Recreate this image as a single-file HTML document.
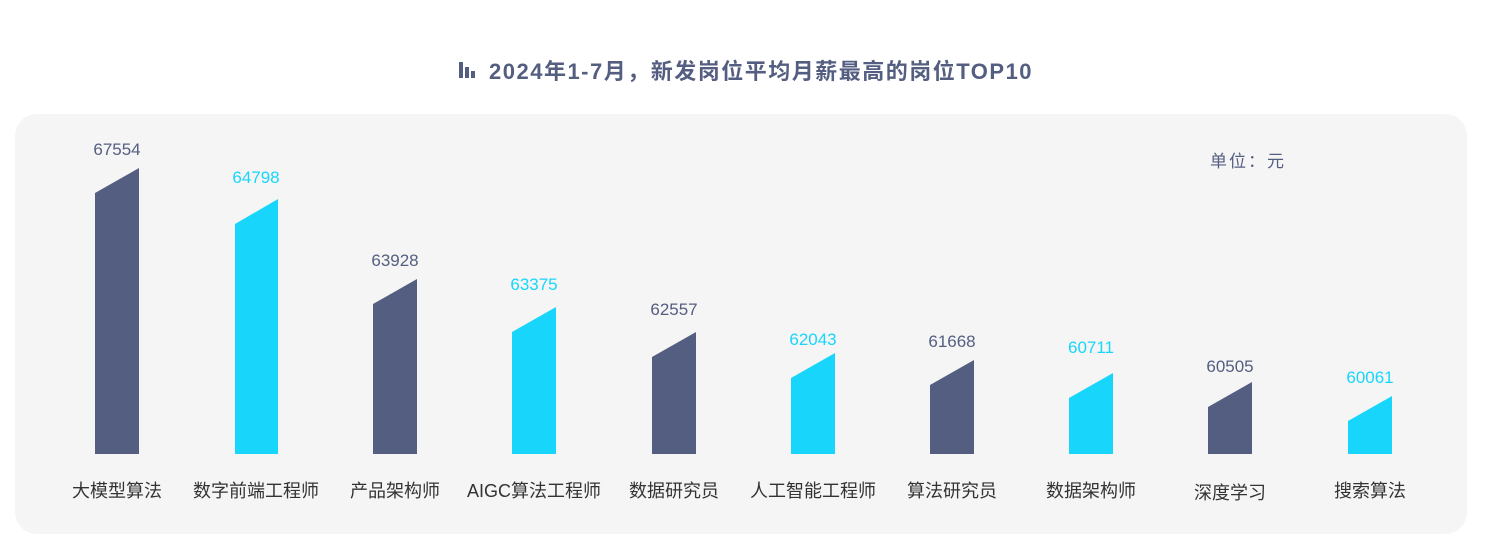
<!DOCTYPE html>
<html><head><meta charset="utf-8"><style>
body{margin:0;background:#fff;width:1488px;height:536px;overflow:hidden;font-family:"Liberation Sans","Noto Sans CJK SC",sans-serif;}
</style></head><body>
<svg width="1488" height="536" xmlns="http://www.w3.org/2000/svg" style="font-family:'Liberation Sans','Noto Sans CJK SC',sans-serif">
<rect x="15" y="114" width="1452" height="420" rx="22" fill="#f5f5f5"/>
<g fill="#545e80"><rect x="459" y="62" width="4" height="16"/><rect x="465" y="67" width="4" height="11"/><rect x="471" y="71" width="4" height="7"/></g>
<text x="489" y="79" font-size="22" font-weight="bold" letter-spacing="1.5" fill="#545e80">2024年1-7月，新发岗位平均月薪最高的岗位TOP10</text>
<text x="1210" y="167" font-size="17" letter-spacing="2" fill="#545e80">单位：元</text>
<g font-size="17" text-anchor="middle">
<polygon points="95,193 139,168 139,454 95,454" fill="#545e80"/><text x="117" y="155" fill="#545e80">67554</text>
<polygon points="235,224 278,199 278,454 235,454" fill="#18d6fb"/><text x="256" y="183" fill="#18d6fb">64798</text>
<polygon points="373,304 417,279 417,454 373,454" fill="#545e80"/><text x="395" y="266" fill="#545e80">63928</text>
<polygon points="512,332 556,307 556,454 512,454" fill="#18d6fb"/><text x="534" y="290" fill="#18d6fb">63375</text>
<polygon points="652,357 696,332 696,454 652,454" fill="#545e80"/><text x="674" y="315" fill="#545e80">62557</text>
<polygon points="791,378 835,353 835,454 791,454" fill="#18d6fb"/><text x="813" y="345" fill="#18d6fb">62043</text>
<polygon points="930,385 974,360 974,454 930,454" fill="#545e80"/><text x="952" y="347" fill="#545e80">61668</text>
<polygon points="1069,398 1113,373 1113,454 1069,454" fill="#18d6fb"/><text x="1091" y="353" fill="#18d6fb">60711</text>
<polygon points="1208,407 1252,382 1252,454 1208,454" fill="#545e80"/><text x="1230" y="372" fill="#545e80">60505</text>
<polygon points="1348,421 1392,396 1392,454 1348,454" fill="#18d6fb"/><text x="1370" y="383" fill="#18d6fb">60061</text>
</g>
<g font-size="18" text-anchor="middle" fill="#333">
<text x="117" y="497">大模型算法</text><text x="256" y="497">数字前端工程师</text><text x="395" y="497">产品架构师</text><text x="534" y="497">AIGC算法工程师</text><text x="674" y="497">数据研究员</text><text x="813" y="497">人工智能工程师</text><text x="952" y="497">算法研究员</text><text x="1091" y="497">数据架构师</text><text x="1230" y="499">深度学习</text><text x="1370" y="497">搜索算法</text>
</g>
</svg>
</body></html>
